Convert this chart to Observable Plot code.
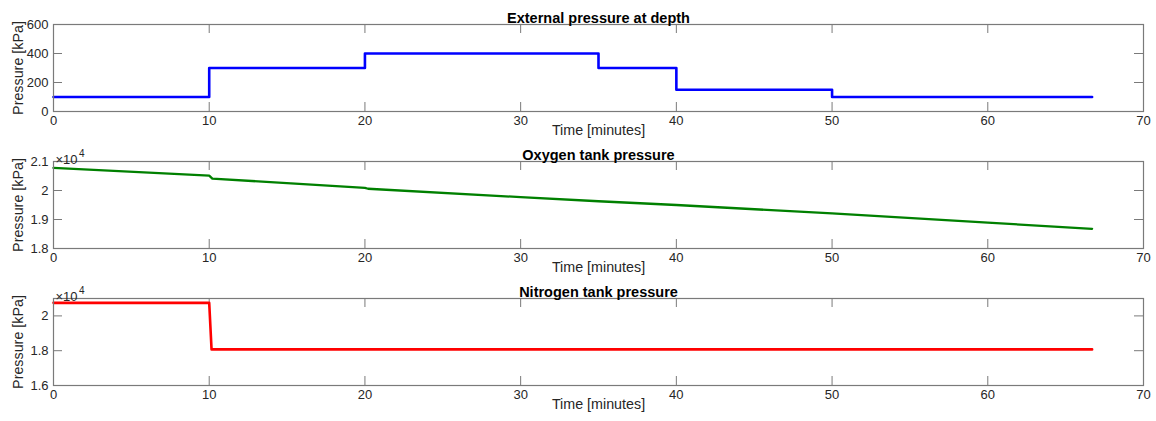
<!DOCTYPE html>
<html>
<head>
<meta charset="utf-8">
<script src="https://cdn.jsdelivr.net/npm/d3@7"></script>
<script src="https://cdn.jsdelivr.net/npm/@observablehq/plot@0.6"></script>
<style>
  html, body { margin: 0; padding: 0; background: #fff; }
  #chart svg { display: block; }
</style>
</head>
<body>
<div id="chart"></div>
<script>
// ---- data ----
const xTicks = [0, 10, 20, 30, 40, 50, 60, 70];
const xLabel = "Time [minutes]";
const yLabel = "Pressure [kPa]";

const extTitle = "External pressure at depth";
const extTime = [0, 10, 20, 35, 40, 50, 66.7];
const extPressure = [100, 300, 400, 300, 150, 100, 100];
const extTicks = [0, 200, 400, 600];

const o2Title = "Oxygen tank pressure";
const o2Time = [0, 10, 10.2, 20, 20.2, 30, 35, 40, 50, 60, 66.7];
const o2Pressure = [20780, 20510, 20410, 20090, 20060, 19770, 19630, 19500, 19210, 18890, 18680];
const o2Ticks = [18000, 19000, 20000, 21000];

const n2Title = "Nitrogen tank pressure";
const n2Time = [0, 10, 10.15, 66.7];
const n2Pressure = [20750, 20750, 18075, 18075];
const n2Ticks = [16000, 18000, 20000];

const exponentBase = "\u00d710";
const exponentPower = "4";

// ---- layout ----
const W = 1156, ML = 53, MR = 13, MT = 24, innerH = 87, innerW = W - ML - MR, tickLen = 9;
const frameColor = "#7a7a7a";

function panel({title, time, values, color, yDomain, yTicks, fmt, exponent, curve, height, lineWidth}) {
  const data = time.map((t, i) => ({t, v: values[i]}));
  const marks = [
    Plot.ruleX(xTicks, {x: d => d, stroke: frameColor, insetTop: innerH - tickLen}),
    Plot.ruleX(xTicks, {x: d => d, stroke: frameColor, insetBottom: innerH - tickLen}),
    Plot.ruleY(yTicks, {y: d => d, stroke: frameColor, insetRight: innerW - tickLen}),
    Plot.ruleY(yTicks, {y: d => d, stroke: frameColor, insetLeft: innerW - tickLen}),
    Plot.line(data, {x: "t", y: "v", stroke: color, strokeWidth: lineWidth || 2.6, curve: curve || "linear"}),
    Plot.axisX({ticks: xTicks, tickSize: 0, tickPadding: 4, label: null, fontSize: 13}),
    Plot.axisY({ticks: yTicks, tickSize: 0, tickPadding: 5, label: null, tickFormat: fmt, fontSize: 13}),
    Plot.frame({stroke: frameColor, strokeWidth: 1.2}),
    Plot.text([title], {text: d => d, frameAnchor: "top", dy: -12, fontWeight: "bold", fontSize: 14.5, fill: "#000"}),
    Plot.text([xLabel], {text: d => d, frameAnchor: "bottom", dy: 23.5, fontSize: 14.3, fill: "#262626"}),
    Plot.text([yLabel], {text: d => d, frameAnchor: "left", textAnchor: "middle", dx: -35.5, rotate: -90, fontSize: 14.3, fill: "#262626"})
  ];
  if (exponent) {
    marks.push(Plot.text([exponentBase], {text: d => d, frameAnchor: "top-left", textAnchor: "start", dx: 2, dy: -7, fontSize: 13, fill: "#262626"}));
    marks.push(Plot.text([exponentPower], {text: d => d, frameAnchor: "top-left", textAnchor: "start", dx: 25.5, dy: -12, fontSize: 10, fill: "#262626"}));
  }
  return Plot.plot({
    width: W,
    height,
    marginLeft: ML,
    marginRight: MR,
    marginTop: MT,
    marginBottom: height - MT - innerH,
    style: {fontFamily: "'Liberation Sans', Arial, Helvetica, sans-serif", color: "#262626", background: "#fff", overflow: "visible"},
    x: {domain: [0, 70]},
    y: {domain: yDomain},
    marks
  });
}

const chart = document.getElementById("chart");
chart.append(panel({title: extTitle, time: extTime, values: extPressure, color: "#0000ff",
  yDomain: [0, 600], yTicks: extTicks, fmt: d => String(d), curve: "step-after", height: 137}));
chart.append(panel({title: o2Title, time: o2Time, values: o2Pressure, color: "#008000",
  yDomain: [18000, 21000], yTicks: o2Ticks, fmt: d => String(d / 1e4), exponent: true, height: 137, lineWidth: 2.3}));
chart.append(panel({title: n2Title, time: n2Time, values: n2Pressure, color: "#ff0000",
  yDomain: [16000, 21000], yTicks: n2Ticks, fmt: d => String(d / 1e4), exponent: true, height: 147}));
</script>
</body>
</html>
